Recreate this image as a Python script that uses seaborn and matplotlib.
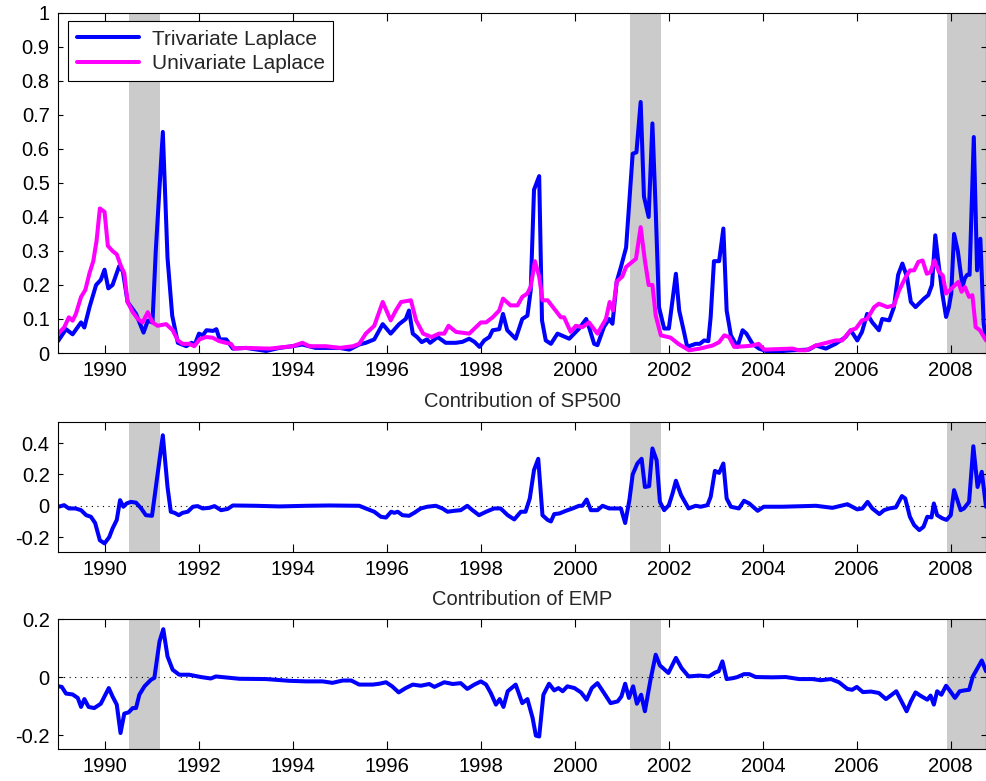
import matplotlib
matplotlib.use("Agg")
import matplotlib.pyplot as plt
import pandas as pd
import seaborn as sns
from matplotlib.ticker import FuncFormatter

# recession periods (decimal years)
recessions = [(1990.50, 1991.17), (2001.17, 2001.83), (2007.92, 2008.80)]

# top panel: trivariate Laplace
tri_t = [1989.00, 1989.17, 1989.31, 1989.49, 1989.56, 1989.67, 1989.81, 1989.91, 1989.99, 1990.07,
         1990.16, 1990.30, 1990.38, 1990.48, 1990.66, 1990.82, 1990.91, 1991.01, 1991.08, 1991.23,
         1991.33, 1991.43, 1991.55, 1991.73, 1991.84, 1991.91, 1992.00, 1992.08, 1992.16, 1992.30,
         1992.37, 1992.44, 1992.58, 1992.72, 1993.00, 1993.43, 1993.71, 1993.99, 1994.20, 1994.48,
         1994.99, 1995.20, 1995.41, 1995.55, 1995.73, 1995.91, 1996.08, 1996.26, 1996.40, 1996.47,
         1996.55, 1996.64, 1996.74, 1996.85, 1996.92, 1997.08, 1997.25, 1997.47, 1997.61, 1997.75,
         1997.86, 1997.97, 1998.07, 1998.18, 1998.25, 1998.39, 1998.47, 1998.56, 1998.74, 1998.88,
         1998.99, 1999.06, 1999.13, 1999.24, 1999.30, 1999.38, 1999.49, 1999.63, 1999.88, 2000.09,
         2000.24, 2000.31, 2000.41, 2000.48, 2000.62, 2000.73, 2000.80, 2000.89, 2000.98, 2001.09,
         2001.23, 2001.31, 2001.40, 2001.47, 2001.57, 2001.65, 2001.72, 2001.79, 2001.90, 2002.00,
         2002.15, 2002.22, 2002.33, 2002.39, 2002.57, 2002.66, 2002.75, 2002.84, 2002.89, 2002.96,
         2003.07, 2003.16, 2003.23, 2003.32, 2003.46, 2003.57, 2003.65, 2003.78, 2003.92, 2004.13,
         2004.63, 2004.98, 2005.13, 2005.34, 2005.55, 2005.76, 2005.87, 2006.01, 2006.11, 2006.22,
         2006.33, 2006.47, 2006.54, 2006.69, 2006.79, 2006.88, 2006.97, 2007.07, 2007.15, 2007.25,
         2007.43, 2007.52, 2007.60, 2007.67, 2007.74, 2007.82, 2007.90, 2007.96, 2008.01, 2008.07,
         2008.15, 2008.25, 2008.30, 2008.35, 2008.40, 2008.49, 2008.56, 2008.63, 2008.70, 2008.75]
tri_v = [0.035, 0.07, 0.055, 0.09, 0.075, 0.135, 0.20, 0.215, 0.245, 0.19,
         0.20, 0.255, 0.24, 0.15, 0.115, 0.06, 0.095, 0.09, 0.30, 0.65,
         0.28, 0.11, 0.03, 0.02, 0.03, 0.025, 0.057, 0.052, 0.067, 0.065,
         0.07, 0.04, 0.04, 0.013, 0.015, 0.006, 0.015, 0.02, 0.025, 0.015,
         0.015, 0.01, 0.025, 0.03, 0.04, 0.085, 0.057, 0.085, 0.10, 0.125,
         0.057, 0.047, 0.032, 0.04, 0.03, 0.047, 0.03, 0.03, 0.033, 0.042,
         0.033, 0.018, 0.037, 0.047, 0.067, 0.07, 0.115, 0.067, 0.042, 0.10,
         0.11, 0.185, 0.48, 0.52, 0.096, 0.037, 0.027, 0.057, 0.042, 0.072,
         0.10, 0.072, 0.027, 0.023, 0.077, 0.10, 0.086, 0.21, 0.253, 0.31,
         0.586, 0.59, 0.738, 0.46, 0.40, 0.675, 0.42, 0.135, 0.072, 0.072,
         0.233, 0.125, 0.057, 0.018, 0.027, 0.027, 0.037, 0.035, 0.106, 0.27,
         0.27, 0.366, 0.125, 0.052, 0.018, 0.067, 0.057, 0.027, 0.013, 0.003,
         0.008, 0.01, 0.022, 0.013, 0.027, 0.047, 0.067, 0.037, 0.062, 0.115,
         0.09, 0.067, 0.10, 0.096, 0.135, 0.23, 0.263, 0.223, 0.15, 0.135,
         0.16, 0.17, 0.20, 0.346, 0.263, 0.175, 0.106, 0.135, 0.175, 0.35,
         0.30, 0.195, 0.22, 0.23, 0.23, 0.635, 0.243, 0.336, 0.086, 0.04]

# top panel: univariate Laplace
uni_t = [1989.00, 1989.13, 1989.23, 1989.31, 1989.38, 1989.49, 1989.58, 1989.67, 1989.75, 1989.82,
         1989.89, 1989.99, 1990.06, 1990.16, 1990.25, 1990.34, 1990.41, 1990.48, 1990.59, 1990.70,
         1990.80, 1990.91, 1991.01, 1991.12, 1991.30, 1991.44, 1991.55, 1991.65, 1991.79, 1991.90,
         1992.01, 1992.15, 1992.29, 1992.43, 1992.57, 1992.68, 1992.75, 1993.00, 1993.50, 1993.99,
         1994.20, 1994.35, 1994.70, 1995.00, 1995.28, 1995.41, 1995.55, 1995.73, 1995.91, 1996.08,
         1996.19, 1996.30, 1996.51, 1996.62, 1996.77, 1996.95, 1997.11, 1997.22, 1997.31, 1997.47,
         1997.75, 1998.00, 1998.11, 1998.25, 1998.39, 1998.47, 1998.63, 1998.78, 1998.88, 1998.99,
         1999.06, 1999.15, 1999.24, 1999.31, 1999.42, 1999.56, 1999.70, 1999.77, 1999.91, 2000.02,
         2000.16, 2000.30, 2000.48, 2000.66, 2000.74, 2000.81, 2000.89, 2001.01, 2001.09, 2001.30,
         2001.40, 2001.49, 2001.57, 2001.65, 2001.72, 2001.83, 2002.04, 2002.20, 2002.43, 2002.66,
         2002.93, 2003.07, 2003.18, 2003.28, 2003.39, 2003.64, 2003.78, 2003.91, 2004.03, 2004.63,
         2004.77, 2004.92, 2005.13, 2005.41, 2005.55, 2005.69, 2005.87, 2005.98, 2006.11, 2006.22,
         2006.37, 2006.47, 2006.65, 2006.79, 2006.90, 2007.04, 2007.13, 2007.22, 2007.31, 2007.40,
         2007.49, 2007.57, 2007.65, 2007.75, 2007.83, 2007.90, 2008.02, 2008.16, 2008.23, 2008.30,
         2008.39, 2008.46, 2008.53, 2008.62, 2008.75]
uni_v = [0.057, 0.075, 0.105, 0.095, 0.115, 0.165, 0.185, 0.235, 0.27, 0.33,
         0.425, 0.415, 0.315, 0.30, 0.29, 0.255, 0.235, 0.15, 0.12, 0.10,
         0.09, 0.12, 0.09, 0.08, 0.085, 0.067, 0.037, 0.027, 0.027, 0.02,
         0.04, 0.047, 0.045, 0.035, 0.03, 0.027, 0.013, 0.015, 0.013, 0.02,
         0.03, 0.02, 0.02, 0.015, 0.02, 0.027, 0.057, 0.08, 0.15, 0.096,
         0.125, 0.15, 0.155, 0.096, 0.057, 0.047, 0.057, 0.057, 0.08, 0.062,
         0.057, 0.09, 0.09, 0.105, 0.125, 0.16, 0.14, 0.14, 0.165, 0.175,
         0.195, 0.27, 0.225, 0.155, 0.155, 0.13, 0.105, 0.105, 0.062, 0.08,
         0.076, 0.09, 0.057, 0.10, 0.15, 0.125, 0.21, 0.225, 0.253, 0.277,
         0.37, 0.272, 0.20, 0.20, 0.11, 0.052, 0.045, 0.027, 0.008, 0.013,
         0.022, 0.032, 0.052, 0.047, 0.018, 0.02, 0.022, 0.027, 0.01, 0.013,
         0.008, 0.008, 0.022, 0.032, 0.037, 0.037, 0.067, 0.072, 0.096, 0.10,
         0.135, 0.145, 0.135, 0.14, 0.184, 0.223, 0.243, 0.243, 0.268, 0.272,
         0.233, 0.238, 0.272, 0.238, 0.228, 0.175, 0.19, 0.209, 0.18, 0.194,
         0.165, 0.17, 0.076, 0.067, 0.037]

# middle panel: contribution of SP500
sp_t = [1989.01, 1989.13, 1989.23, 1989.37, 1989.49, 1989.60, 1989.70, 1989.79, 1989.89, 1989.99,
        1990.09, 1990.16, 1990.25, 1990.32, 1990.39, 1990.46, 1990.55, 1990.66, 1990.77, 1990.87,
        1991.00, 1991.12, 1991.23, 1991.33, 1991.40, 1991.48, 1991.57, 1991.65, 1991.76, 1991.87,
        1991.97, 1992.08, 1992.22, 1992.33, 1992.47, 1992.61, 1992.72, 1993.21, 1993.71, 1994.28,
        1994.77, 1995.41, 1995.55, 1995.73, 1995.87, 1995.98, 1996.09, 1996.16, 1996.23, 1996.33,
        1996.47, 1996.58, 1996.72, 1996.86, 1997.04, 1997.18, 1997.29, 1997.43, 1997.57, 1997.71,
        1997.82, 1997.96, 1998.11, 1998.28, 1998.42, 1998.57, 1998.71, 1998.85, 1998.95, 1999.04,
        1999.13, 1999.22, 1999.31, 1999.42, 1999.49, 1999.56, 1999.67, 1999.81, 1999.95, 2000.09,
        2000.16, 2000.25, 2000.34, 2000.48, 2000.59, 2000.73, 2000.84, 2000.98, 2001.07, 2001.16,
        2001.23, 2001.33, 2001.42, 2001.49, 2001.58, 2001.65, 2001.74, 2001.81, 2001.90, 2002.00,
        2002.08, 2002.15, 2002.26, 2002.42, 2002.57, 2002.68, 2002.82, 2002.89, 2002.98, 2003.07,
        2003.16, 2003.23, 2003.32, 2003.49, 2003.60, 2003.71, 2003.89, 2004.02, 2004.42, 2005.13,
        2005.48, 2005.80, 2006.01, 2006.12, 2006.23, 2006.33, 2006.48, 2006.58, 2006.69, 2006.83,
        2006.96, 2007.03, 2007.13, 2007.22, 2007.33, 2007.42, 2007.50, 2007.59, 2007.64, 2007.71,
        2007.82, 2007.91, 2008.00, 2008.07, 2008.21, 2008.28, 2008.39, 2008.48, 2008.57, 2008.66,
        2008.75]
sp_v = [-0.006, 0.004, -0.017, -0.017, -0.028, -0.06, -0.07, -0.11, -0.22, -0.24,
        -0.20, -0.145, -0.09, 0.036, -0.006, 0.015, 0.025, 0.02, -0.017, -0.06,
        -0.064, 0.206, 0.45, 0.12, -0.038, -0.045, -0.06, -0.045, -0.038, -0.006,
        -0.002, -0.017, -0.013, -0.002, -0.028, -0.02, 0.002, 0.0, -0.004, 0.0,
        0.002, 0.0, -0.017, -0.038, -0.07, -0.075, -0.038, -0.045, -0.038, -0.06,
        -0.064, -0.045, -0.017, -0.006, 0.0, -0.017, -0.038, -0.032, -0.028, 0.0,
        -0.028, -0.06, -0.038, -0.017, -0.017, -0.06, -0.087, -0.038, -0.038, 0.047,
        0.228, 0.30, -0.06, -0.09, -0.10, -0.053, -0.049, -0.032, -0.017, 0.0,
        0.0, 0.04, -0.028, -0.028, 0.0, -0.017, -0.017, -0.017, -0.11, 0.036,
        0.20, 0.27, 0.30, 0.12, 0.125, 0.366, 0.29, 0.025, -0.028, 0.004,
        0.08, 0.16, 0.068, -0.017, 0.0, -0.006, 0.004, 0.057, 0.223, 0.21,
        0.27, 0.047, -0.006, -0.017, 0.032, 0.015, -0.032, -0.006, -0.006, 0.0,
        -0.013, 0.01, -0.023, -0.017, 0.025, -0.017, -0.053, -0.028, -0.017, -0.01,
        0.062, 0.047, -0.07, -0.123, -0.155, -0.134, -0.07, -0.074, 0.015, -0.06,
        -0.08, -0.09, -0.06, 0.10, -0.028, -0.017, 0.025, 0.38, 0.12, 0.217,
        -0.006]

# bottom panel: contribution of EMP
emp_t = [1989.01, 1989.08, 1989.17, 1989.31, 1989.42, 1989.49, 1989.56, 1989.65, 1989.77, 1989.91,
         1990.08, 1990.16, 1990.25, 1990.33, 1990.41, 1990.50, 1990.59, 1990.66, 1990.73, 1990.84,
         1990.98, 1991.05, 1991.16, 1991.24, 1991.33, 1991.44, 1991.58, 1991.79, 1992.04, 1992.25,
         1992.36, 1992.86, 1993.43, 1993.92, 1994.28, 1994.63, 1994.84, 1995.06, 1995.24, 1995.41,
         1995.70, 1995.84, 1995.98, 1996.11, 1996.25, 1996.40, 1996.55, 1996.72, 1996.90, 1997.01,
         1997.22, 1997.40, 1997.57, 1997.71, 1997.86, 1998.00, 1998.11, 1998.21, 1998.32, 1998.40,
         1998.48, 1998.57, 1998.74, 1998.88, 1998.99, 1999.10, 1999.17, 1999.24, 1999.33, 1999.45,
         1999.56, 1999.65, 1999.74, 1999.84, 1999.99, 2000.13, 2000.25, 2000.36, 2000.48, 2000.62,
         2000.76, 2000.91, 2000.99, 2001.07, 2001.15, 2001.24, 2001.32, 2001.41, 2001.49, 2001.61,
         2001.72, 2001.81, 2001.99, 2002.15, 2002.27, 2002.42, 2002.64, 2002.85, 2002.99, 2003.06,
         2003.14, 2003.23, 2003.36, 2003.46, 2003.60, 2003.71, 2003.85, 2004.20, 2004.49, 2004.77,
         2005.06, 2005.23, 2005.45, 2005.62, 2005.80, 2005.90, 2006.00, 2006.13, 2006.30, 2006.47,
         2006.62, 2006.72, 2006.84, 2006.96, 2007.06, 2007.15, 2007.25, 2007.35, 2007.50, 2007.57,
         2007.64, 2007.71, 2007.80, 2007.90, 2007.99, 2008.09, 2008.19, 2008.29, 2008.39, 2008.47,
         2008.66, 2008.75]
emp_v = [-0.032, -0.034, -0.057, -0.06, -0.072, -0.103, -0.076, -0.103, -0.107, -0.092,
         -0.038, -0.067, -0.095, -0.193, -0.126, -0.122, -0.107, -0.107, -0.061, -0.032,
         -0.009, -0.003, 0.123, 0.165, 0.071, 0.025, 0.008, 0.008, 0.0, -0.005,
         0.002, -0.006, -0.007, -0.013, -0.015, -0.015, -0.02, -0.012, -0.012, -0.026,
         -0.026, -0.023, -0.018, -0.032, -0.053, -0.038, -0.026, -0.03, -0.024, -0.034,
         -0.018, -0.024, -0.021, -0.041, -0.026, -0.015, -0.026, -0.055, -0.095, -0.076,
         -0.103, -0.049, -0.026, -0.09, -0.076, -0.141, -0.202, -0.205, -0.061, -0.023,
         -0.046, -0.038, -0.049, -0.032, -0.038, -0.053, -0.078, -0.038, -0.021, -0.055,
         -0.09, -0.084, -0.067, -0.023, -0.072, -0.032, -0.092, -0.061, -0.118, -0.009,
         0.077, 0.04, 0.014, 0.066, 0.031, 0.002, 0.005, 0.002, 0.016, 0.02,
         0.054, -0.007, -0.004, 0.0, 0.01, 0.01, 0.0, -0.001, 0.0, -0.007,
         -0.007, -0.011, -0.007, -0.018, -0.041, -0.044, -0.034, -0.052, -0.05, -0.055,
         -0.076, -0.064, -0.049, -0.087, -0.118, -0.084, -0.053, -0.064, -0.078, -0.064,
         -0.095, -0.049, -0.061, -0.03, -0.049, -0.072, -0.049, -0.046, -0.044, 0.002,
         0.057, 0.02]

year_ticks = [1990, 1992, 1994, 1996, 1998, 2000, 2002, 2004, 2006, 2008]

sns.set_theme(style="ticks")
plt.rcParams["font.family"] = ["Liberation Sans", "DejaVu Sans"]
plt.rcParams.update({
    "axes.unicode_minus": False,
    "xtick.direction": "in", "ytick.direction": "in",
    "xtick.top": True, "ytick.right": True,
    "axes.edgecolor": "black", "axes.linewidth": 0.8,
    "xtick.color": "black", "ytick.color": "black",
    "font.size": 14.5,
})

blue = "#0000ff"
magenta = "#ff00ff"
fmt = FuncFormatter(lambda v, p: f"{v:g}")

fig = plt.figure(figsize=(9.87, 7.81), dpi=100)
ax_top = fig.add_axes([0.0588, 0.548, 0.9402, 0.4355])
ax_sp = fig.add_axes([0.0588, 0.2932, 0.9402, 0.1665])
ax_emp = fig.add_axes([0.0588, 0.041, 0.9402, 0.1664])

for ax in (ax_top, ax_sp, ax_emp):
    for a, b in recessions:
        ax.axvspan(a, b, color="#cbcbcb", lw=0, zorder=0)

sns.lineplot(x=tri_t, y=tri_v, ax=ax_top, color=blue, lw=2.9,
             label="Trivariate Laplace", estimator=None, sort=False)
sns.lineplot(x=uni_t, y=uni_v, ax=ax_top, color=magenta, lw=2.9,
             label="Univariate Laplace", estimator=None, sort=False)
sns.lineplot(x=sp_t, y=sp_v, ax=ax_sp, color=blue, lw=2.9, estimator=None, sort=False)
sns.lineplot(x=emp_t, y=emp_v, ax=ax_emp, color=blue, lw=2.9, estimator=None, sort=False)

ax_top.set_ylim(0, 1)
ax_top.set_yticks([0, 0.1, 0.2, 0.3, 0.4, 0.5, 0.6, 0.7, 0.8, 0.9, 1])
ax_sp.set_ylim(-0.295, 0.535)
ax_sp.set_yticks([-0.2, 0, 0.2, 0.4])
ax_emp.set_ylim(-0.248, 0.2)
ax_emp.set_yticks([-0.2, 0, 0.2])

for ax in (ax_sp, ax_emp):
    ax.axhline(0, color="black", lw=0.8, ls=(0, (1, 4)), zorder=1)

ax_sp.set_title("Contribution of SP500", fontsize=14.5, pad=11)
ax_emp.set_title("Contribution of EMP", fontsize=14.5, pad=10)

for ax in (ax_top, ax_sp, ax_emp):
    ax.set_xlim(1989.0, 2008.75)
    ax.set_xticks(year_ticks)
    ax.yaxis.set_major_formatter(fmt)
    ax.tick_params(axis="x", length=6, width=0.8, pad=6, labelsize=14.5)
    ax.tick_params(axis="y", length=3.5, width=0.8, pad=6, labelsize=14.5)
    ax.set_xlabel("")
    ax.set_ylabel("")
    for s in ax.spines.values():
        s.set_visible(True)
        s.set_zorder(5)

leg = ax_top.legend(loc="upper left", bbox_to_anchor=(0.011, 0.975), fontsize=15,
                    frameon=True, fancybox=False, edgecolor="black", framealpha=1,
                    handlelength=3.0, handletextpad=0.6, labelspacing=0.25,
                    borderpad=0.4, borderaxespad=0)
leg.get_frame().set_linewidth(0.8)

fig.savefig("out.png", dpi=100)
